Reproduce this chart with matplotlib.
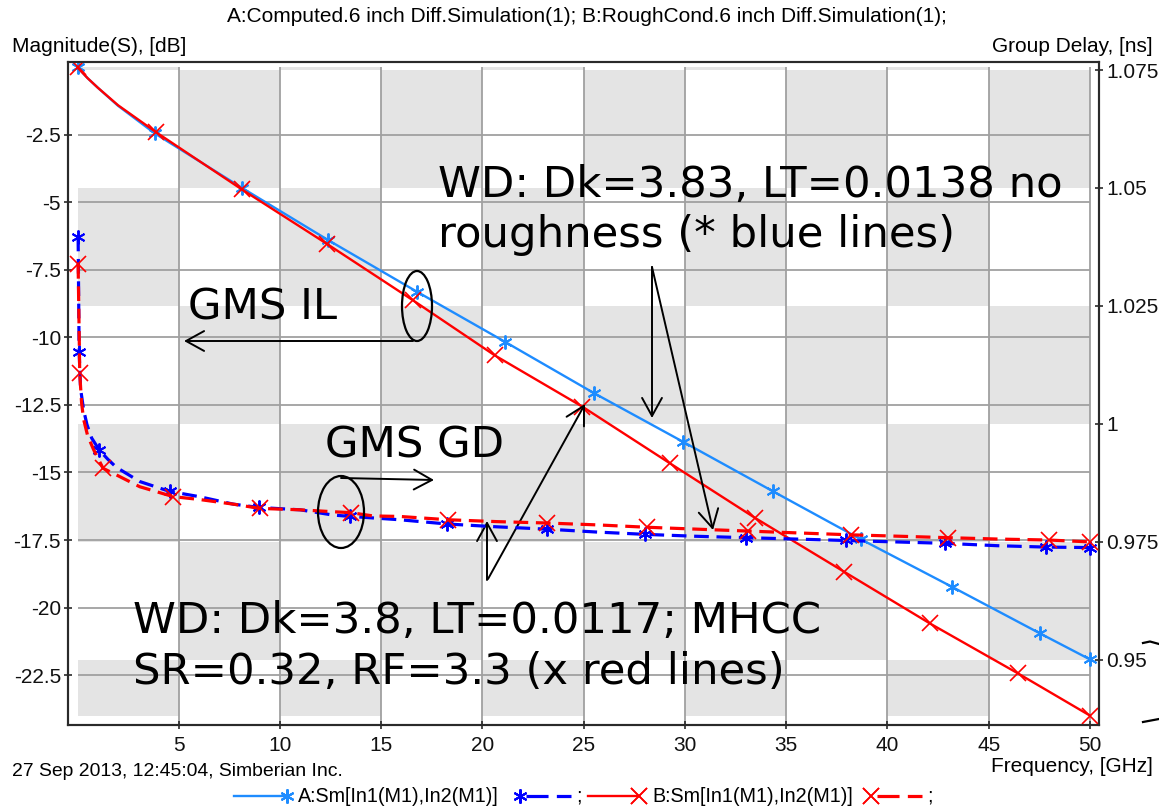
import matplotlib
matplotlib.use('Agg')
import matplotlib.pyplot as plt
from matplotlib.lines import Line2D
from matplotlib.patches import Rectangle, Ellipse

W, H, DPI = 1159, 806, 100

# ---------------- data ----------------
title = "A:Computed.6 inch Diff.Simulation(1); B:RoughCond.6 inch Diff.Simulation(1);"
x_ticks = [5, 10, 15, 20, 25, 30, 35, 40, 45, 50]
db_ticks = [-2.5, -5, -7.5, -10, -12.5, -15, -17.5, -20, -22.5]
gd_ticks = [0.95, 0.975, 1.0, 1.025, 1.05, 1.075]

# Insertion loss, A (no roughness) and B (rough conductor)
il_a_freq = [0, 0.5, 1.0, 2.0, 3.81, 8.14, 12.37, 16.75, 21.11, 25.53, 29.9, 34.33, 38.68, 43.18, 47.54, 50.0]
il_a_db = [0, -0.40, -0.75, -1.42, -2.44, -4.47, -6.39, -8.30, -10.16, -12.07, -13.86, -15.69, -17.47, -19.23, -20.96, -21.92]
il_a_marks = [0, 3.81, 8.14, 12.37, 16.75, 21.11, 25.53, 29.9, 34.33, 38.68, 43.18, 47.54, 50.0]

il_b_freq = [0, 0.5, 1.0, 2.0, 3.9, 8.1, 12.33, 16.58, 20.6, 24.93, 29.26, 33.46, 37.85, 42.1, 46.45, 50.0]
il_b_db = [0, -0.40, -0.75, -1.40, -2.41, -4.51, -6.54, -8.63, -10.66, -12.56, -14.66, -16.68, -18.67, -20.59, -22.44, -24.0]
il_b_marks = [0, 3.9, 8.1, 12.33, 16.58, 20.6, 24.93, 29.26, 33.46, 37.85, 42.1, 46.45, 50.0]

# Group delay, A and B
gd_a_freq = [0.03, 0.08, 0.15, 0.3, 0.47, 0.7, 1.07, 1.5, 1.92, 3.07, 4.55, 6.0, 7.7, 8.96, 11.0, 12.6,
             13.48, 15.9, 18.25, 20.7, 23.2, 25.6, 28.03, 30.5, 33.0, 35.5, 37.93, 40.4, 42.85, 45.4, 47.85, 50.0]
gd_a_ns = [1.0397, 1.0153, 1.0075, 1.0030, 0.9998, 0.9970, 0.9945, 0.9925, 0.9908, 0.9878, 0.9857, 0.9846,
           0.9830, 0.9823, 0.9818, 0.9807, 0.9804, 0.9797, 0.9788, 0.9782, 0.9777, 0.9771, 0.9766, 0.9762,
           0.9759, 0.9756, 0.9753, 0.9750, 0.9747, 0.9742, 0.9739, 0.9738]
gd_a_marks = [0.03, 0.08, 1.07, 4.55, 8.96, 13.48, 18.25, 23.2, 28.03, 33.0, 37.93, 42.85, 47.85, 50.0]

gd_b_freq = [0.03, 0.11, 0.2, 0.3, 0.5, 0.8, 1.26, 1.92, 3.07, 4.72, 6.0, 7.7, 9.0, 11.0, 12.6, 13.5,
             14.6, 15.9, 18.28, 20.7, 23.2, 25.7, 28.15, 30.6, 33.1, 35.6, 38.2, 40.6, 42.98, 45.5, 47.96, 50.0]
gd_b_ns = [1.0339, 1.0107, 1.0045, 1.0010, 0.9975, 0.9945, 0.9906, 0.9892, 0.9867, 0.9846, 0.9840, 0.9830,
           0.9821, 0.9818, 0.9814, 0.9812, 0.9805, 0.9804, 0.9797, 0.9793, 0.9790, 0.9786, 0.9781, 0.9777,
           0.9773, 0.9769, 0.9765, 0.9762, 0.9759, 0.9756, 0.9754, 0.9750]
gd_b_marks = [0.03, 0.11, 1.26, 4.72, 9.0, 13.5, 18.28, 23.2, 28.15, 33.1, 38.2, 42.98, 47.96, 50.0]

# ---------------- styling ----------------
BLUE_L = '#1E8CFF'
BLUE = '#0000FF'
RED = '#FF0000'
GRAY_BG = '#E4E4E4'
GRID = '#A0A0A0'
DARK = '#2A2A2A'
SMALL = ['Liberation Sans', 'DejaVu Sans']
BIG = ['DejaVu Sans']
FS_SMALL = 15
FS_BIG = 31.2
ASTER = (6, 2, 0)
DASH = (0, (4.6, 2.4))
LEG_DASH = (0, (6.9, 2.6))


def P(px, py):
    """figure pixel (from top-left) -> figure fraction"""
    return (px / W, 1 - py / H)


fig = plt.figure(figsize=(W / DPI, H / DPI), dpi=DPI)
fig.patch.set_facecolor('white')
ax = fig.add_axes([68 / W, 1 - 725 / H, (1099 - 68) / W, (725 - 62) / H])
ax2 = ax.twinx()

XL = (-0.47, 50.45)
YL = (-24.35, 0.2)
YR = (0.9362, 1.0767)
ax.set_xlim(*XL)
ax.set_ylim(*YL)
ax2.set_ylim(*YR)


def gd_to_db(v):
    return YL[0] + (v - YR[0]) * (YL[1] - YL[0]) / (YR[1] - YR[0])


# checkerboard background over the data extent
top_db = max(max(il_a_db), max(il_b_db))
bot_db = min(min(il_a_db), min(il_b_db))
bounds = [top_db] + [gd_to_db(v) for v in sorted(gd_ticks, reverse=True)] + [bot_db]
cols = [0] + x_ticks
for k in range(len(bounds) - 1):
    for c in range(len(cols) - 1):
        if (k + c) % 2 == 0:
            ax.add_patch(Rectangle((cols[c], bounds[k + 1]), cols[c + 1] - cols[c],
                                   bounds[k] - bounds[k + 1], facecolor=GRAY_BG,
                                   edgecolor='none', zorder=0.2))

# grid lines
ax.hlines(db_ticks, 0, 50, colors=GRID, lw=1.3, zorder=0.5)
ax.vlines(x_ticks, YL[0], top_db, colors=GRID, lw=1.3, zorder=0.5)

# ticks
ax.set_xticks(x_ticks)
ax.set_xticklabels([f'{v:g}' for v in x_ticks])
ax.set_yticks(db_ticks)
ax.set_yticklabels([f'{v:g}' for v in db_ticks])
ax2.set_yticks(gd_ticks)
ax2.set_yticklabels([f'{v:g}' for v in gd_ticks])
for a in (ax, ax2):
    a.tick_params(direction='inout', length=6, width=1.2, color=DARK, labelcolor='#111111',
                  labelsize=FS_SMALL, pad=2)
    for lab in a.get_xticklabels() + a.get_yticklabels():
        lab.set_family(SMALL)
    for s in a.spines.values():
        s.set_color(DARK)
        s.set_linewidth(1.5)
ax.tick_params(axis='x', pad=5)
ax2.patch.set_visible(False)


def idx(freqs, marks):
    return [i for i, f in enumerate(freqs) if f in marks]


# insertion loss
ax.plot(il_a_freq, il_a_db, color=BLUE_L, lw=1.7, marker=ASTER, ms=10, mew=1.4,
        markevery=idx(il_a_freq, il_a_marks), zorder=3)
ax.plot(il_b_freq, il_b_db, color=RED, lw=1.7, marker='x', ms=11, mew=1.2,
        markevery=idx(il_b_freq, il_b_marks), zorder=3)
# group delay
ax2.plot(gd_a_freq, gd_a_ns, color=BLUE, lw=2.3, ls=DASH, marker=ASTER, ms=10, mew=1.4,
         markevery=idx(gd_a_freq, gd_a_marks), zorder=3)
ax2.plot(gd_b_freq, gd_b_ns, color=RED, lw=2.3, ls=DASH, marker='x', ms=11, mew=1.2,
         markevery=idx(gd_b_freq, gd_b_marks), zorder=3)

# ---------------- texts around the chart ----------------
fig.text(*P(587, 17), title, ha='center', va='center', fontsize=FS_SMALL, family=SMALL)
fig.text(*P(12, 46), 'Magnitude(S), [dB]', ha='left', va='center', fontsize=FS_SMALL, family=SMALL)
fig.text(*P(1153, 46), 'Group Delay, [ns]', ha='right', va='center', fontsize=FS_SMALL, family=SMALL)
fig.text(*P(1153, 767), 'Frequency, [GHz]', ha='right', va='center', fontsize=FS_SMALL, family=SMALL)
fig.text(*P(12, 771), '27 Sep 2013, 12:45:04, Simberian Inc.', ha='left', va='center',
         fontsize=FS_SMALL * 0.93, family=SMALL)

# legend row
LY = 796
def fl(x0, x1, y, **kw):
    (a0, b0), (a1, b1) = P(x0, y), P(x1, y)
    fig.add_artist(Line2D([a0, a1], [b0, b1], transform=fig.transFigure, **kw))

fl(234, 287, LY, color=BLUE_L, lw=1.7)
fl(287, 287, LY, color=BLUE_L, marker=ASTER, ms=10, mew=1.4, ls='none')
fig.text(*P(298, LY), 'A:Sm[In1(M1),In2(M1)]', ha='left', va='center', fontsize=FS_SMALL * 0.95, family=SMALL)
fl(520, 520, LY, color=BLUE, marker=ASTER, ms=10, mew=1.4, ls='none')
fl(526, 571, LY, color=BLUE, lw=2.3, ls=LEG_DASH)
fig.text(*P(576, LY), ';', ha='left', va='center', fontsize=FS_SMALL * 0.95, family=SMALL)
fl(588, 639, LY, color=RED, lw=1.7)
fl(639, 639, LY, color=RED, marker='x', ms=11, mew=1.2, ls='none')
fig.text(*P(652, LY), 'B:Sm[In1(M1),In2(M1)]', ha='left', va='center', fontsize=FS_SMALL * 0.95, family=SMALL)
fl(871, 871, LY, color=RED, marker='x', ms=11, mew=1.2, ls='none')
fl(877, 922, LY, color=RED, lw=2.3, ls=LEG_DASH)
fig.text(*P(927, LY), ';', ha='left', va='center', fontsize=FS_SMALL * 0.95, family=SMALL)

# ---------------- overlay annotations ----------------
for txt, px, py in [('WD: Dk=3.83, LT=0.0138 no', 438, 197),
                    ('roughness (* blue lines)', 438, 247),
                    ('GMS IL', 188, 320),
                    ('GMS GD', 325, 458),
                    ('WD: Dk=3.8, LT=0.0117; MHCC', 133, 633),
                    ('SR=0.32, RF=3.3 (x red lines)', 133, 684)]:
    fig.text(*P(px, py), txt, ha='left', va='baseline', fontsize=FS_BIG, family=BIG, color='black',
             zorder=10)

for cx, cy, w, h in [(417, 306, 30, 70), (341, 512, 46, 72)]:
    fig.add_artist(Ellipse(P(cx, cy), w / W, h / H, transform=fig.transFigure, fill=False,
                           edgecolor='black', lw=1.6, zorder=10))

arrow_style = '->,head_length=1.0,head_width=0.55'
for (tx, ty), (hx, hy) in [((413, 341), (184, 341)),
                           ((341, 478), (434, 480)),
                           ((652, 267), (652, 418)),
                           ((652, 267), (713, 530)),
                           ((487, 580), (487, 521)),
                           ((488, 579), (585, 404))]:
    ax.annotate('', xy=P(hx, hy), xytext=P(tx, ty), xycoords='figure fraction',
                textcoords='figure fraction', annotation_clip=False, zorder=10,
                arrowprops=dict(arrowstyle=arrow_style, color='black', lw=1.4,
                                shrinkA=0, shrinkB=0, mutation_scale=13))

# cut-off bracket strokes at the right edge
for pts in [[(1143, 643), (1150, 641.5), (1159, 644)], [(1143, 722), (1151, 720.5), (1159, 719)]]:
    xs = [P(x, y)[0] for x, y in pts]
    ys = [P(x, y)[1] for x, y in pts]
    fig.add_artist(Line2D(xs, ys, transform=fig.transFigure, color='black', lw=1.6))

fig.savefig('out.png', dpi=DPI)
